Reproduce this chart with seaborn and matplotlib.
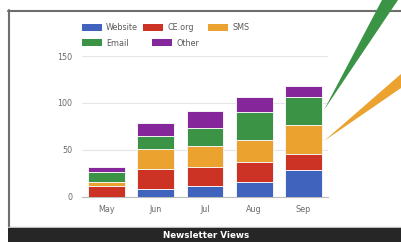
import matplotlib
matplotlib.use("Agg")
import matplotlib.pyplot as plt
import seaborn as sns
import numpy as np
import pandas as pd
from matplotlib.patches import Patch, Polygon, Rectangle
from matplotlib.lines import Line2D

months = ["May", "Jun", "Jul", "Aug", "Sep"]
series_names = ["Website", "CE.org", "SMS", "Email", "Other"]
website = [0, 8, 11, 16, 28]
ce_org = [11, 22, 21, 21, 18]
sms = [5, 21, 22, 23, 30]
email = [10, 14, 19, 30, 30]
other = [6, 14, 18, 16, 12]
yticks = [0, 50, 100, 150]
title = "Newsletter Views"

colors = ["#4064bd", "#cc3324", "#eba22f", "#3b9445", "#85269a"]

sns.set_theme(style="white")
plt.rcParams["font.family"] = ["DejaVu Sans"]

W, H = 401, 242
fig = plt.figure(figsize=(W / 100, H / 100), dpi=100)
fig.patch.set_facecolor("white")

def fx(px):
    return px / W

def fy(py):
    return 1 - py / H

# frame (top and left borders)
fig.add_artist(Line2D([fx(8), fx(401)], [fy(10.5), fy(10.5)], transform=fig.transFigure,
                      color="#6e6e6e", linewidth=1.5, zorder=1))
fig.add_artist(Line2D([fx(8.5), fx(8.5)], [fy(10), fy(228)], transform=fig.transFigure,
                      color="#6e6e6e", linewidth=1.5, zorder=1))
fig.add_artist(Line2D([fx(8), fx(401)], [fy(226.5), fy(226.5)], transform=fig.transFigure,
                      color="#bdbdbd", linewidth=1.0, zorder=1))
# dark band
fig.add_artist(Rectangle((fx(8), 0), 1 - fx(8), fy(228), transform=fig.transFigure,
                         facecolor="#262626", edgecolor="none", zorder=1))
fig.text(fx(206), fy(235.5), title, color="white", fontsize=6.3, fontweight="bold",
         ha="center", va="center", zorder=2)

ax = fig.add_axes([fx(82), fy(196.7), fx(328) - fx(82), fy(56) - fy(196.7)])
ax.set_facecolor("none")

data = pd.DataFrame({"month": months, "Website": website, "CE.org": ce_org,
                     "SMS": sms, "Email": email, "Other": other})
cum = data[series_names].cumsum(axis=1)

for name, c in reversed(list(zip(series_names, colors))):
    sns.barplot(x=data["month"], y=cum[name], color=c, ax=ax, width=0.75,
                edgecolor="#f4f4f4", linewidth=0.7, saturation=1, zorder=3)

ax.set_ylim(0, 150)
ax.set_xlim(-0.5, 4.5)
ax.set_yticks(yticks)
ax.set_yticklabels([str(v) for v in yticks])
ax.grid(axis="y", color="#e6e6e6", linewidth=0.8, zorder=0)
ax.set_axisbelow(True)
for s in ["top", "right", "left"]:
    ax.spines[s].set_visible(False)
ax.spines["bottom"].set_color("#bbbbbb")
ax.spines["bottom"].set_linewidth(0.8)
ax.set_xlabel("")
ax.set_ylabel("")
ax.tick_params(axis="both", length=0, labelsize=5.8, colors="#6a6a6a")
ax.tick_params(axis="y", pad=7)
ax.tick_params(axis="x", pad=6)

handles = [Patch(facecolor=c, edgecolor="none") for c in colors]
positions = [(82, 23.5), (143, 23.5), (208, 23.5), (82, 38.5), (152, 38.5)]
for h, lab, (px, py) in zip(handles, series_names, positions):
    leg = fig.legend([h], [lab], loc="upper left", bbox_to_anchor=(fx(px), fy(py)),
                     frameon=False, fontsize=5.8, handlelength=2.5, handleheight=1.0,
                     handletextpad=0.5, borderaxespad=0, borderpad=0)
    for t in leg.get_texts():
        t.set_color("#5a5a5a")

# decorative callout wedges
fig.add_artist(Polygon([(fx(324), fy(110)), (fx(382), fy(0)), (fx(398), fy(0))],
                       closed=True, transform=fig.transFigure,
                       facecolor="#3b9445", edgecolor="none", zorder=5))
fig.add_artist(Polygon([(fx(324), fy(141)), (fx(401), fy(74)), (fx(401), fy(88))],
                       closed=True, transform=fig.transFigure,
                       facecolor="#eba22f", edgecolor="none", zorder=5))

fig.savefig("out.png", dpi=100)
